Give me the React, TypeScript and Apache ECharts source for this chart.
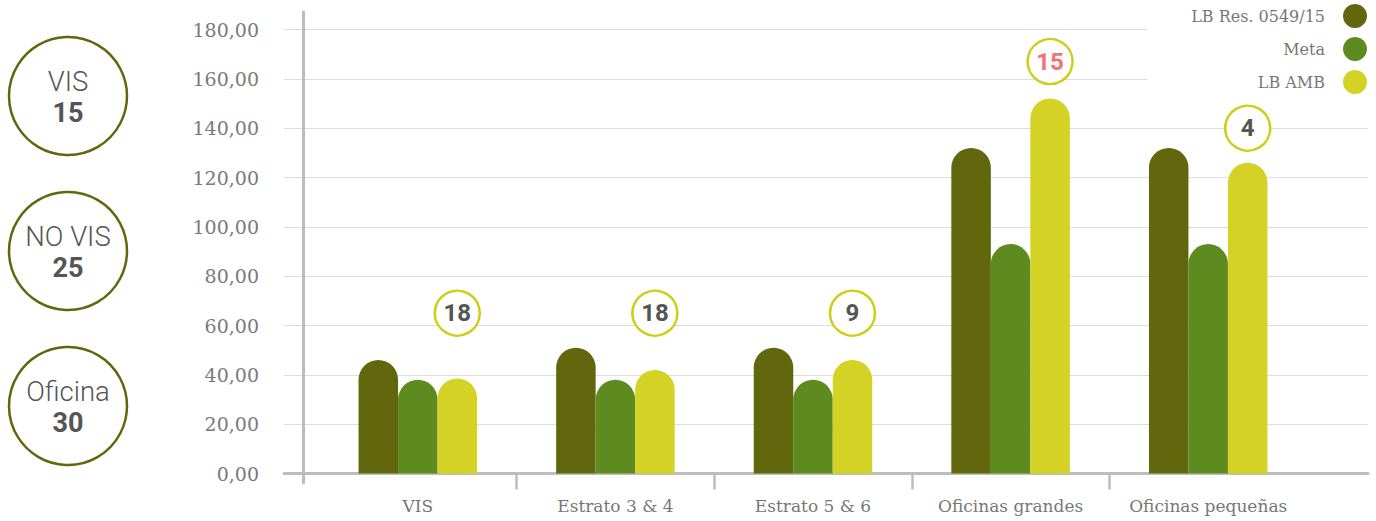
import React, { useEffect, useRef } from "react";
import * as echarts from "echarts";

const categories = ["VIS", "Estrato 3 & 4", "Estrato 5 & 6", "Oficinas grandes", "Oficinas pequeñas"];
const seriesNames = ["LB Res. 0549/15", "Meta", "LB AMB"];
const lbRes = [46, 51, 51, 132, 132];
const meta = [38, 38, 38, 93, 93];
const lbAmb = [38.5, 42, 46, 152, 126];
const bubbleCounts = [18, 18, 9, 15, 4];
const bubbleLevels = [65, 65, 65, 167, 140];
const highlightedCategory = "Oficinas grandes";
const sideNames = ["VIS", "NO VIS", "Oficina"];
const sideCounts = [15, 25, 30];
const yMin = 0;
const yMax = 180;
const yStep = 20;

const COLORS = ["#62670E", "#5E8B20", "#D3D225"];
const BUBBLE_BORDER = "#D0CD17";
const SERIF = "DejaVu Serif";

export default function App() {
  const ref = useRef<HTMLDivElement>(null);
  useEffect(() => {
    document.body.style.margin = "0";
    const chart = echarts.init(ref.current!, null, { renderer: "svg" });
    const seriesData = [lbRes, meta, lbAmb];
    const barWidth = 39.5;

    const sideGraphics: any[] = [];
    sideNames.forEach((name, i) => {
      const cy = 96 + 155 * i;
      sideGraphics.push({
        type: "circle",
        shape: { cx: 68, cy, r: 59 },
        style: { fill: "none", stroke: "#62670E", lineWidth: 2.5 },
        z: 10,
      });
      sideGraphics.push({
        type: "text",
        x: 68,
        y: cy - 15,
        style: {
          text: name,
          align: "center",
          verticalAlign: "middle",
          fontSize: 27.5,
          fontWeight: 300,
          fontFamily: "Roboto",
          fill: "#555555",
        },
        z: 10,
      });
      sideGraphics.push({
        type: "text",
        x: 68,
        y: cy + 17,
        style: {
          text: String(sideCounts[i]),
          align: "center",
          verticalAlign: "middle",
          fontSize: 27,
          fontWeight: "bold",
          fontFamily: "Roboto",
          fill: "#555555",
        },
        z: 10,
      });
    });

    const option: any = {
      animation: false,
      backgroundColor: "#ffffff",
      legend: {
        data: seriesNames,
        orient: "vertical",
        right: 9,
        top: 4,
        padding: 0,
        itemWidth: 24,
        itemHeight: 24,
        itemGap: 9,
        icon: "circle",
        align: "right",
        selectedMode: false,
        z: 20,
        textStyle: { fontSize: 16, color: "#777777", fontFamily: SERIF, padding: [0, 13, 0, 0] },
      },
      graphic: {
        elements: [
          { type: "rect", shape: { x: 1147, y: 0, width: 229, height: 100 }, style: { fill: "#ffffff" }, z: 10 },
          ...sideGraphics,
        ],
      },
      grid: [
        { left: 284, right: 8, top: 29.5, bottom: 47.5 },
        { left: 319, right: 69, top: 29.5, bottom: 47.5 },
        { left: 319, right: 69, top: 473.5, bottom: 31.5 },
        { left: 303, right: 8, top: 12, bottom: 38 },
      ],
      xAxis: [
        {
          gridIndex: 0,
          type: "value",
          min: 0,
          max: 1,
          axisLine: { show: true, onZero: false, lineStyle: { color: "#bdbdbd", width: 3 } },
          axisTick: { show: false },
          axisLabel: { show: false },
          splitLine: { show: false },
        },
        {
          gridIndex: 1,
          type: "category",
          data: categories,
          axisLine: { show: false },
          axisTick: { show: false },
          axisLabel: { interval: 0, margin: 24, fontSize: 17, color: "#777777", fontFamily: SERIF },
          splitLine: { show: false },
        },
        {
          gridIndex: 2,
          type: "category",
          data: categories,
          axisLine: { show: false },
          axisTick: { show: false },
          axisLabel: { show: false },
          splitLine: {
            show: true,
            interval: 0,
            showMinLine: false,
            showMaxLine: false,
            lineStyle: { color: "#bdbdbd", width: 2.5 },
          },
        },
        { gridIndex: 3, type: "value", min: 0, max: 1, show: false },
      ],
      yAxis: [
        {
          gridIndex: 0,
          type: "value",
          min: yMin,
          max: yMax,
          interval: yStep,
          axisLine: { show: false },
          axisTick: { show: false },
          axisLabel: {
            margin: 25,
            fontSize: 19,
            color: "#7a7a7a",
            fontFamily: SERIF,
            formatter: (v: number) => v.toFixed(2).replace(".", ","),
          },
          splitLine: { show: true, lineStyle: { color: "#dddddd", width: 1 } },
        },
        { gridIndex: 1, type: "value", min: yMin, max: yMax, interval: yStep, show: false },
        { gridIndex: 2, type: "value", min: 0, max: 1, show: false },
        {
          gridIndex: 3,
          type: "value",
          min: 0,
          max: 1,
          axisLine: { show: true, onZero: false, lineStyle: { color: "#bdbdbd", width: 3 } },
          axisTick: { show: false },
          axisLabel: { show: false },
          splitLine: { show: false },
        },
      ],
      series: [
        ...seriesNames.map((name, i) => ({
          name,
          type: "bar",
          xAxisIndex: 1,
          yAxisIndex: 1,
          data: seriesData[i],
          barWidth,
          barGap: "0%",
          itemStyle: { color: COLORS[i], borderRadius: [20, 20, 0, 0] },
          z: 2,
        })),
        {
          name: "bubbles",
          type: "scatter",
          xAxisIndex: 1,
          yAxisIndex: 1,
          data: bubbleLevels,
          symbol: "circle",
          symbolSize: 45,
          symbolOffset: [barWidth, 0],
          itemStyle: { color: "#ffffff", borderColor: BUBBLE_BORDER, borderWidth: 2.5, opacity: 1 },
          z: 5,
          label: {
            show: true,
            position: "inside",
            formatter: (p: any) =>
              categories[p.dataIndex] === highlightedCategory
                ? `{hi|${bubbleCounts[p.dataIndex]}}`
                : `{n|${bubbleCounts[p.dataIndex]}}`,
            rich: {
              n: { fontSize: 24, fontWeight: "bold", fontFamily: "Roboto", color: "#555555" },
              hi: { fontSize: 24, fontWeight: "bold", fontFamily: "Roboto", color: "#F07373" },
            },
          },
        },
      ],
    };
    chart.setOption(option);
    return () => chart.dispose();
  }, []);
  return <div ref={ref} style={{ position: "absolute", left: 0, top: 0, width: 1376, height: 521 }} />;
}
